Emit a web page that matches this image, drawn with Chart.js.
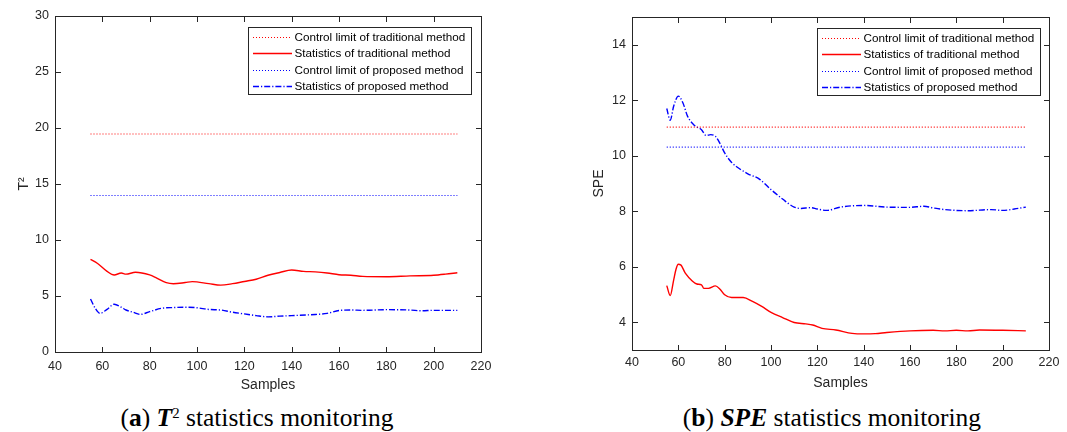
<!DOCTYPE html>
<html>
<head>
<meta charset="utf-8">
<script src="https://cdn.jsdelivr.net/npm/chart.js@4/dist/chart.umd.min.js"></script>
<style>
    body { margin: 0; background: #fff; width: 1067px; height: 432px; position: relative; overflow: hidden; }
    .panel { position: absolute; top: 0; height: 400px; }
    .panel canvas { display: block; }
    .caption {
        position: absolute; top: 405px; width: 400px; text-align: center;
        font-family: 'Liberation Serif', 'Times New Roman', serif; font-size: 25.5px; line-height: 25px; color: #000;
    }
    .caption sup { font-size: 0.58em; vertical-align: 0.55em; line-height: 0; }
</style>
</head>
<body>
<div class="panel" style="left:0px; width:533px"><canvas id="t2Chart" width="533" height="400"></canvas></div>
<div class="panel" style="left:533px; width:534px"><canvas id="speChart" width="534" height="400"></canvas></div>
<div class="caption" style="left:57px">(<b>a</b>) <b><i>T</i></b><sup>2</sup> statistics monitoring</div>
<div class="caption" style="left:632px">(<b>b</b>) <b><i>SPE</i></b> statistics monitoring</div>

<script>
// Eje x común y marcas de los ejes
const xTicks = [40, 60, 80, 100, 120, 140, 160, 180, 200, 220];
const t2Ticks = [0, 5, 10, 15, 20, 25, 30];
const speTicks = [4, 6, 8, 10, 12, 14];

// Límites de control (línea horizontal entre la primera y la última muestra)
const limitX = [55, 210];
const t2LimitTrad = 19.46;
const t2LimitProp = 13.97;
const speLimitTrad = 11.03;
const speLimitProp = 10.31;

// Estadístico T2 - método tradicional
const t2TradX = [55, 58, 62, 65, 68, 70, 74, 80, 83, 87, 90, 95, 98, 105, 110, 115, 120, 125, 130, 135, 140, 145, 150, 155, 160, 165, 170, 180, 190, 200, 205, 210];
const t2TradY = [8.27, 7.9, 7.2, 6.88, 7.05, 6.95, 7.12, 6.88, 6.6, 6.2, 6.1, 6.2, 6.28, 6.1, 5.97, 6.1, 6.3, 6.5, 6.85, 7.1, 7.32, 7.2, 7.15, 7.05, 6.9, 6.85, 6.75, 6.72, 6.8, 6.85, 6.95, 7.08];

// Estadístico T2 - método propuesto
const t2PropX = [55, 57, 59, 62, 65, 68, 70, 73, 76, 80, 85, 90, 95, 100, 105, 110, 115, 120, 125, 130, 135, 140, 150, 155, 160, 165, 170, 180, 190, 195, 200, 210];
const t2PropY = [4.73, 3.9, 3.45, 3.8, 4.27, 4.0, 3.75, 3.55, 3.36, 3.6, 3.9, 3.97, 4.0, 3.95, 3.8, 3.75, 3.55, 3.4, 3.25, 3.14, 3.2, 3.25, 3.35, 3.45, 3.7, 3.75, 3.72, 3.78, 3.75, 3.68, 3.72, 3.72];

// Estadístico SPE - método tradicional
const speTradX = [55, 56.5, 58, 59, 60, 61, 63, 66, 68, 70, 71, 73, 76, 78, 80, 83, 88, 92, 96, 100, 105, 110, 115, 118, 122, 128, 135, 140, 145, 150, 160, 170, 175, 180, 185, 190, 200, 210];
const speTradY = [5.32, 4.96, 5.53, 5.91, 6.09, 6.07, 5.77, 5.49, 5.38, 5.35, 5.22, 5.22, 5.31, 5.19, 4.99, 4.89, 4.89, 4.75, 4.57, 4.36, 4.17, 3.99, 3.94, 3.9, 3.78, 3.72, 3.6, 3.58, 3.59, 3.63, 3.69, 3.71, 3.69, 3.71, 3.69, 3.72, 3.71, 3.69];

// Estadístico SPE - método propuesto
const spePropX = [55, 56.5, 58, 60, 62, 64, 67, 70, 72, 74, 76, 78, 80, 83, 87, 90, 95, 100, 105, 110, 113, 117, 120, 124, 130, 140, 150, 160, 166, 170, 175, 185, 195, 200, 205, 210];
const spePropY = [11.7, 11.28, 11.79, 12.15, 11.9, 11.42, 11.09, 10.94, 10.73, 10.76, 10.7, 10.44, 10.1, 9.76, 9.5, 9.35, 9.16, 8.78, 8.44, 8.15, 8.1, 8.13, 8.08, 8.03, 8.15, 8.21, 8.15, 8.14, 8.18, 8.12, 8.06, 8.02, 8.06, 8.03, 8.08, 8.15];

const legendLabels = [
    'Control limit of traditional method',
    'Statistics of traditional method',
    'Control limit of proposed method',
    'Statistics of proposed method'
];

const axisColor = '#262626';
const sansFamily = '"Liberation Sans", Arial, sans-serif';

function toPoints(xs, ys) {
    return xs.map((x, i) => ({ x: x, y: ys[i] }));
}

function buildDatasets(limTrad, trad, limProp, prop) {
    return [
        { label: legendLabels[0], data: toPoints(limitX, [limTrad, limTrad]), borderColor: '#ff0000', borderWidth: 1.1, borderDash: [1, 2] },
        { label: legendLabels[1], data: trad, borderColor: '#ff0000', borderWidth: 1.4, borderDash: [] },
        { label: legendLabels[2], data: toPoints(limitX, [limProp, limProp]), borderColor: '#0000ff', borderWidth: 1.1, borderDash: [1, 2] },
        { label: legendLabels[3], data: prop, borderColor: '#0000ff', borderWidth: 1.4, borderDash: [6, 2, 1.2, 2] }
    ];
}

// Caja del eje con marcas hacia dentro en los cuatro lados (rectángulos de 1 px)
const framePlugin = {
    id: 'axisFrame',
    afterDraw(chart) {
        const ctx = chart.ctx;
        const a = chart.chartArea;
        const sx = chart.scales.x;
        const sy = chart.scales.y;
        const len = 5;
        const left = Math.round(a.left), right = Math.round(a.right);
        const top = Math.round(a.top), bottom = Math.round(a.bottom);
        ctx.save();
        ctx.globalAlpha = 1;
        ctx.globalCompositeOperation = 'source-over';
        ctx.fillStyle = axisColor;
        ctx.fillRect(left, top, right - left + 1, 1);
        ctx.fillRect(left, bottom, right - left + 1, 1);
        ctx.fillRect(left, top, 1, bottom - top + 1);
        ctx.fillRect(right, top, 1, bottom - top + 1);
        sx.ticks.forEach(tk => {
            const px = Math.round(sx.getPixelForValue(tk.value));
            ctx.fillRect(px, bottom - len, 1, len);
            ctx.fillRect(px, top + 1, 1, len);
        });
        sy.ticks.forEach(tk => {
            const py = Math.round(sy.getPixelForValue(tk.value));
            ctx.fillRect(left + 1, py, len, 1);
            ctx.fillRect(right - len, py, len, 1);
        });
        ctx.restore();
    }
};

// Leyenda con muestras de línea (punteada, continua, raya-punto)
const lineLegendPlugin = {
    id: 'lineLegend',
    afterDraw(chart, args, opts) {
        const ctx = chart.ctx;
        const a = chart.chartArea;
        const sets = chart.data.datasets;
        ctx.save();
        ctx.font = '11.7px ' + sansFamily;
        const textW = Math.max(...sets.map(d => ctx.measureText(d.label).width));
        const lineLen = 39, padL = 4, gap = 3, padR = 6, rowH = 16.3;
        const w = Math.round(padL + lineLen + gap + textW + padR);
        const h = Math.round(rowH * sets.length + 2);
        const x0 = Math.round(a.right - opts.right - w) + 0.5;
        const y0 = Math.round(a.top + opts.top) + 0.5;
        ctx.fillStyle = '#fff';
        ctx.fillRect(x0, y0, w, h);
        ctx.setLineDash([]);
        ctx.strokeStyle = axisColor;
        ctx.lineWidth = 1;
        ctx.strokeRect(x0, y0, w, h);
        sets.forEach((d, i) => {
            const cy = Math.round(y0 + 9.5 + i * rowH);
            ctx.beginPath();
            ctx.setLineDash(d.borderDash || []);
            ctx.strokeStyle = d.borderColor;
            ctx.lineWidth = d.borderWidth;
            ctx.moveTo(Math.round(x0 + padL), cy + 0.5);
            ctx.lineTo(Math.round(x0 + padL + lineLen), cy + 0.5);
            ctx.stroke();
            ctx.setLineDash([]);
            ctx.fillStyle = '#000';
            ctx.textBaseline = 'middle';
            ctx.textAlign = 'left';
            ctx.fillText(d.label, x0 + padL + lineLen + gap, cy + 1);
        });
        ctx.restore();
    }
};

function makeChart(id, datasets, cfg) {
    const ctx = document.getElementById(id).getContext('2d');
    return new Chart(ctx, {
        type: 'line',
        data: { datasets: datasets },
        plugins: [framePlugin, lineLegendPlugin],
        options: {
            responsive: false,
            animation: false,
            layout: { padding: cfg.padding },
            elements: {
                point: { radius: 0 },
                line: { cubicInterpolationMode: 'monotone', fill: false }
            },
            scales: {
                x: {
                    type: 'linear',
                    min: 40,
                    max: 220,
                    afterBuildTicks: s => { s.ticks = xTicks.map(v => ({ value: v })); },
                    afterFit: s => { s.height = cfg.xHeight; },
                    grid: { display: false, drawTicks: false },
                    border: { display: false },
                    ticks: { color: axisColor, font: { family: sansFamily, size: 12.5 }, padding: cfg.xTickPad, maxRotation: 0 },
                    title: { display: true, text: 'Samples', color: axisColor, font: { family: sansFamily, size: 14 }, padding: { top: 0, bottom: cfg.xTitlePad } }
                },
                y: {
                    type: 'linear',
                    min: cfg.yMin,
                    max: cfg.yMax,
                    afterBuildTicks: s => { s.ticks = cfg.yTicks.map(v => ({ value: v })); },
                    afterFit: s => { s.width = cfg.yWidth; },
                    grid: { display: false, drawTicks: false },
                    border: { display: false },
                    ticks: { color: axisColor, font: { family: sansFamily, size: 12.5 }, padding: 6 },
                    title: { display: true, text: cfg.yTitle, color: axisColor, font: { family: sansFamily, size: 14 }, padding: { top: cfg.yTitlePad, bottom: 0 } }
                }
            },
            plugins: {
                legend: { display: false },
                tooltip: { enabled: false },
                lineLegend: cfg.legendPos
            }
        }
    });
}

makeChart('t2Chart',
    buildDatasets(t2LimitTrad, toPoints(t2TradX, t2TradY), t2LimitProp, toPoints(t2PropX, t2PropY)),
    {
        padding: { top: 16, right: 52, left: 0, bottom: 0 },
        xHeight: 48, yWidth: 55, xTickPad: 7, xTitlePad: 6.6, yTitlePad: 16,
        yMin: 0, yMax: 30, yTicks: t2Ticks, yTitle: 'T²',
        legendPos: { right: 10, top: 11 }
    });

makeChart('speChart',
    buildDatasets(speLimitTrad, toPoints(speTradX, speTradY), speLimitProp, toPoints(spePropX, spePropY)),
    {
        padding: { top: 17, right: 18, left: 0, bottom: 0 },
        xHeight: 50, yWidth: 99, xTickPad: 5.5, xTitlePad: 8.6, yTitlePad: 57.6,
        yMin: 3, yMax: 15, yTicks: speTicks, yTitle: 'SPE',
        legendPos: { right: 9, top: 11 }
    });
</script>
</body>
</html>
